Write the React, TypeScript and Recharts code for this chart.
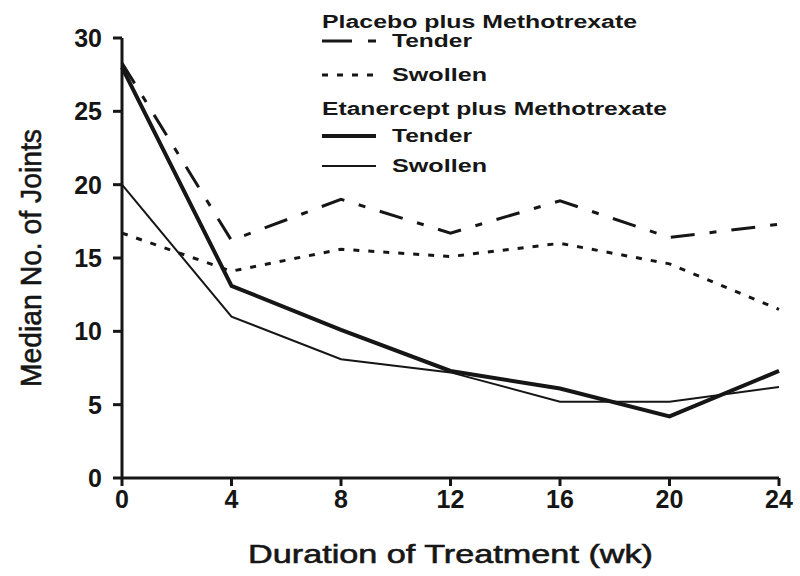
import { LineChart, Line, XAxis, YAxis, Legend } from "recharts"

const weeks = [0, 4, 8, 12, 16, 20, 24]
const placeboTender = [28.3, 16.2, 19.0, 16.7, 18.9, 16.4, 17.3]
const placeboSwollen = [16.7, 14.1, 15.6, 15.1, 16.0, 14.6, 11.5]
const etanerceptTender = [28.0, 13.1, 10.1, 7.3, 6.1, 4.2, 7.3]
const etanerceptSwollen = [20.0, 11.0, 8.1, 7.2, 5.2, 5.2, 6.2]

const yTicks = [0, 5, 10, 15, 20, 25, 30]
const xTicks = weeks

const chartData = weeks.map((week, i) => ({
  week,
  placeboTender: placeboTender[i],
  placeboSwollen: placeboSwollen[i],
  etanerceptTender: etanerceptTender[i],
  etanerceptSwollen: etanerceptSwollen[i],
}))

const ink = "#161616"
const font = "'Liberation Sans', Arial, Helvetica, sans-serif"

const styles = {
  placeboTender: { width: 3, dash: "24 15 7 15" },
  placeboSwollen: { width: 3, dash: "6 9" },
  etanerceptTender: { width: 4, dash: undefined },
  etanerceptSwollen: { width: 2, dash: undefined },
}

function XTitle(props: any) {
  const { x, y, width } = props.viewBox
  return (
    <text
      x={x + width / 2}
      y={y + 85}
      textAnchor="middle"
      fontSize={26}
      fontFamily={font}
      fill={ink}
      stroke={ink}
      strokeWidth={0.6}
      textLength={405}
      lengthAdjust="spacingAndGlyphs"
    >
      Duration of Treatment (wk)
    </text>
  )
}

function YTitle(props: any) {
  const { y, height } = props.viewBox
  const cx = 41
  const cy = y + height / 2
  return (
    <text
      x={cx}
      y={cy}
      transform={`rotate(-90, ${cx}, ${cy})`}
      textAnchor="middle"
      fontSize={29}
      fontFamily={font}
      fill={ink}
      stroke={ink}
      strokeWidth={0.6}
      textLength={258}
      lengthAdjust="spacingAndGlyphs"
    >
      Median No. of Joints
    </text>
  )
}

function LegendBox() {
  const head = (label: string, y: number, len: number) => (
    <text x={322} y={y} fontSize={18} fontWeight="bold" fontFamily={font} fill={ink}
      textLength={len} lengthAdjust="spacingAndGlyphs">
      {label}
    </text>
  )
  const item = (key: keyof typeof styles, label: string, y: number) => (
    <g>
      <line x1={322} x2={376} y1={y - 6} y2={y - 6} stroke={ink}
        strokeWidth={styles[key].width} strokeDasharray={key === "placeboTender" ? "30 16 8 30" : styles[key].dash} />
      <text x={392} y={y} fontSize={19} fontWeight="bold" fontFamily={font} fill={ink}
        textLength={label === "Tender" ? 80 : 95} lengthAdjust="spacingAndGlyphs">
        {label}
      </text>
    </g>
  )
  return (
    <svg width={800} height={190} style={{ display: "block" }}>
      {head("Placebo plus Methotrexate", 28, 315)}
      {item("placeboTender", "Tender", 47)}
      {item("placeboSwollen", "Swollen", 81)}
      {head("Etanercept plus Methotrexate", 115, 345)}
      {item("etanerceptTender", "Tender", 142)}
      {item("etanerceptSwollen", "Swollen", 172)}
    </svg>
  )
}

export default function App() {
  return (
    <div style={{ position: "absolute", left: 0, top: 0, background: "#fff" }}>
      <LineChart
        width={800}
        height={576}
        data={chartData}
        margin={{ top: 38, right: 21, left: 0, bottom: 0 }}
      >
        <XAxis
          dataKey="week"
          type="number"
          domain={[0, 24]}
          ticks={xTicks}
          height={98}
          tickSize={8}
          tickMargin={4}
          stroke={ink}
          strokeWidth={3}
          tick={{ fontSize: 25, fontWeight: "bold", fill: ink, fontFamily: font }}
          label={XTitle}
        />
        <YAxis
          domain={[0, 30]}
          ticks={yTicks}
          width={122}
          tickSize={9}
          tickMargin={11}
          stroke={ink}
          strokeWidth={3}
          tick={{ fontSize: 25, fontWeight: "bold", fill: ink, fontFamily: font }}
          label={YTitle}
        />
        <Legend
          layout="vertical"
          align="center"
          verticalAlign="middle"
          wrapperStyle={{ top: 0, left: 0, width: 800 }}
          content={() => <LegendBox />}
        />
        <Line type="linear" dataKey="placeboTender" name="Placebo Tender" stroke={ink}
          strokeWidth={styles.placeboTender.width} strokeDasharray={styles.placeboTender.dash}
          dot={false} isAnimationActive={false} />
        <Line type="linear" dataKey="placeboSwollen" name="Placebo Swollen" stroke={ink}
          strokeWidth={styles.placeboSwollen.width} strokeDasharray={styles.placeboSwollen.dash}
          dot={false} isAnimationActive={false} />
        <Line type="linear" dataKey="etanerceptTender" name="Etanercept Tender" stroke={ink}
          strokeWidth={styles.etanerceptTender.width} dot={false} isAnimationActive={false} />
        <Line type="linear" dataKey="etanerceptSwollen" name="Etanercept Swollen" stroke={ink}
          strokeWidth={styles.etanerceptSwollen.width} dot={false} isAnimationActive={false} />
      </LineChart>
    </div>
  )
}
